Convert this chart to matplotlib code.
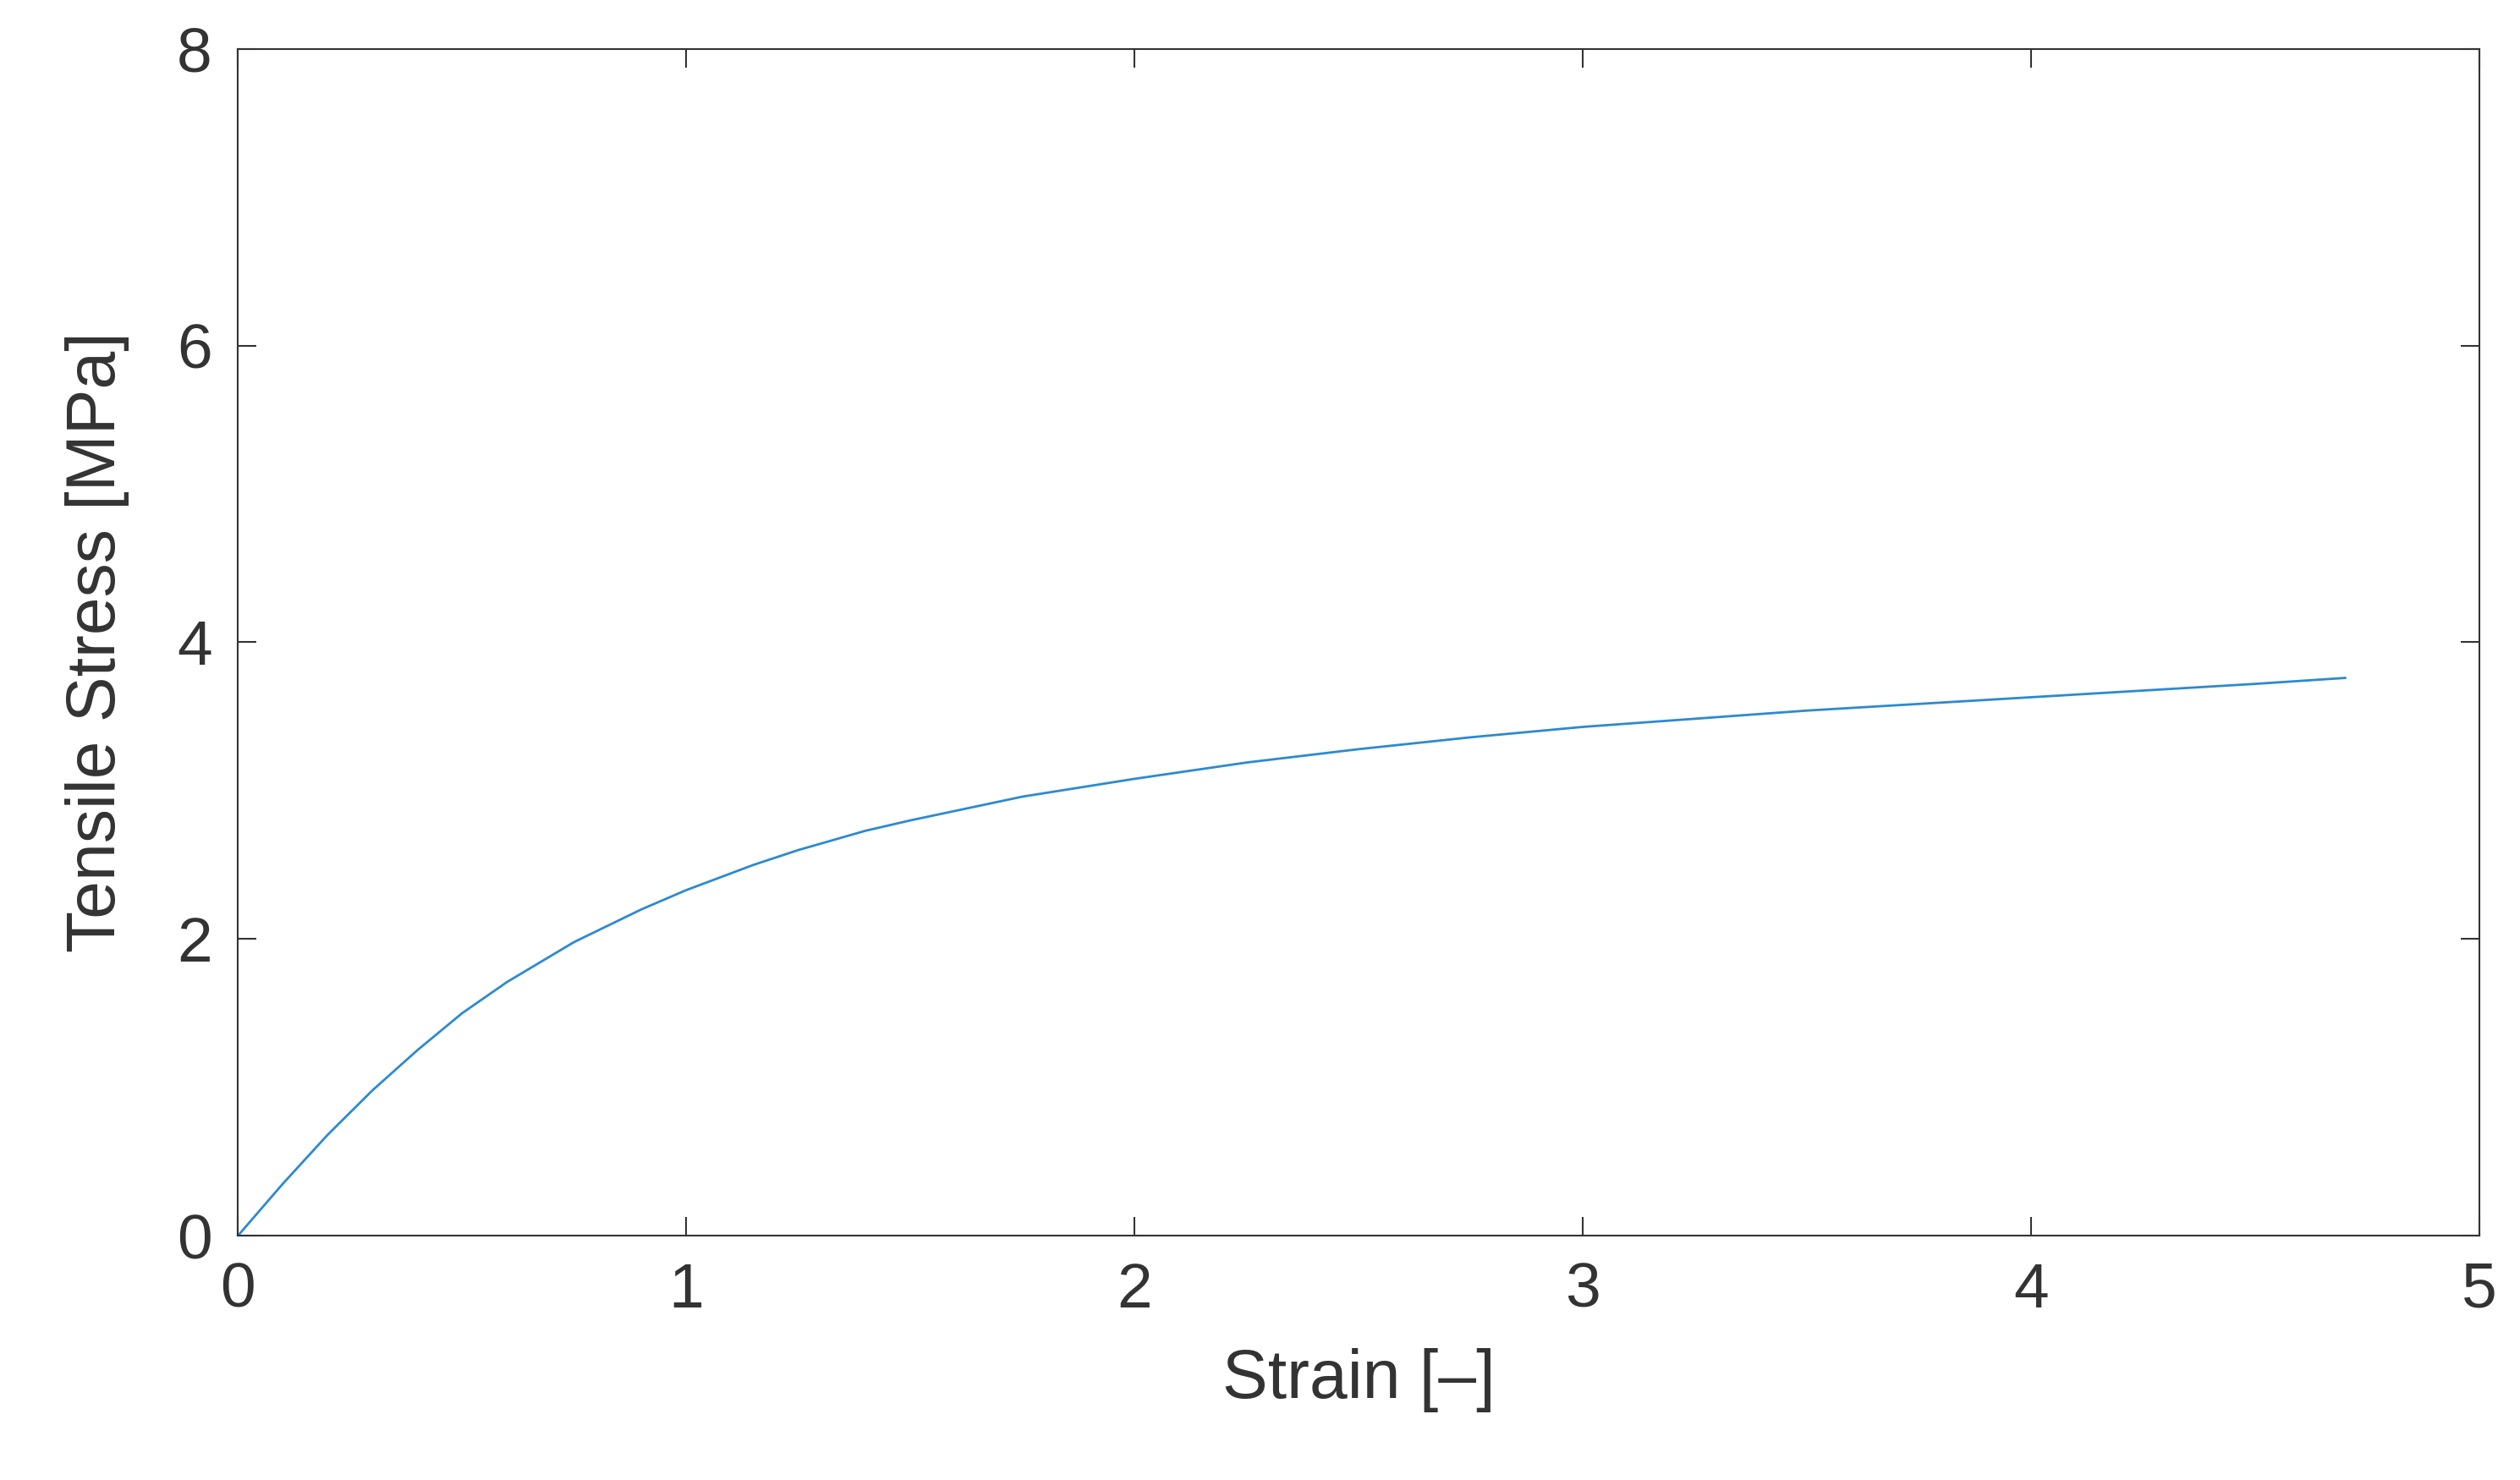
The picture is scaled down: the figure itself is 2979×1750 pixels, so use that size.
import matplotlib
matplotlib.use("Agg")
import matplotlib.pyplot as plt

strain = [0, 0.1, 0.2, 0.3, 0.4, 0.5, 0.6, 0.75, 0.9, 1.0, 1.15, 1.25, 1.4, 1.5, 1.75, 2.0, 2.25, 2.5, 2.75, 3.0, 3.5, 4.0, 4.5, 4.7]
stress = [0, 0.35, 0.68, 0.98, 1.25, 1.50, 1.71, 1.98, 2.20, 2.33, 2.50, 2.60, 2.73, 2.80, 2.96, 3.08, 3.19, 3.28, 3.36, 3.43, 3.54, 3.63, 3.72, 3.76]
xticks = [0, 1, 2, 3, 4, 5]
yticks = [0, 2, 4, 6, 8]

plt.rcParams['font.family'] = ['Liberation Sans', 'DejaVu Sans']
fig = plt.figure(figsize=(29.79, 17.5), dpi=100)
ax = fig.add_axes([0.0944, 0.165, 0.8896, 0.802])
ax.plot(strain, stress, color='#2C8AD0', lw=2)
ax.set_xlim(0, 5); ax.set_ylim(0, 8)
ax.set_xticks(xticks); ax.set_yticks(yticks)
ax.tick_params(direction='in', length=16, width=1.5, labelsize=54, colors='#333333',
               top=True, right=True, pad=22)
for s in ax.spines.values():
    s.set_color('#333333'); s.set_linewidth(1.5)
ax.set_xlabel('Strain [\u2013]', fontsize=58, color='#333333', labelpad=24)
ax.set_ylabel('Tensile Stress [MPa]', fontsize=58, color='#333333', labelpad=40)
fig.savefig('out.png', dpi=100)
